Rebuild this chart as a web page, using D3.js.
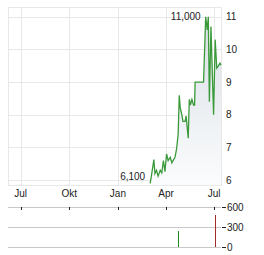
<!DOCTYPE html>
<html>
<head>
<meta charset="utf-8">
<script src="https://cdn.jsdelivr.net/npm/d3@7"></script>
<style>
  body { margin: 0; background: #fff; }
  svg { display: block; font-family: "Liberation Sans", Arial, sans-serif; }
</style>
</head>
<body>
<svg id="chart" width="264" height="255"></svg>
<script>
// price series (date, close)
const priceDates = [
  '2024-03-02', '2024-03-05', '2024-03-09', '2024-03-11', '2024-03-14', '2024-03-17',
  '2024-03-21', '2024-03-24', '2024-03-27', '2024-03-30', '2024-04-02', '2024-04-05',
  '2024-04-09', '2024-04-12', '2024-04-15', '2024-04-18', '2024-04-21', '2024-04-24',
  '2024-04-26', '2024-04-28', '2024-05-01', '2024-05-03', '2024-05-07', '2024-05-09',
  '2024-05-13', '2024-05-15', '2024-05-17', '2024-05-20', '2024-05-23', '2024-05-25',
  '2024-05-26', '2024-06-11', '2024-06-15', '2024-06-18', '2024-06-20', '2024-06-22',
  '2024-06-25', '2024-06-27', '2024-06-30', '2024-07-03', '2024-07-06', '2024-07-09',
  '2024-07-12', '2024-07-14'
];
const priceValues = [
  5.9, 6.2, 6.63, 6.2, 6.3, 6.12,
  6.3, 6.22, 6.6, 6.26, 6.8, 6.6,
  6.7, 6.53, 6.62, 6.7, 6.96, 7.42,
  8.6, 8.2, 8.0, 7.8, 7.8, 7.96,
  7.28, 8.47, 8.3, 8.47, 8.3, 8.3,
  9.0, 9.0, 11.0, 10.6, 11.0, 8.4,
  10.7, 9.6, 8.0, 10.3, 9.43, 9.5,
  9.58, 9.52
];
// volume bars
const volumeDates = ['2024-04-24', '2024-07-03'];
const volumeValues = [240, 490];
const volumeUp = [true, false];
// min / max annotations
const extremeDates = ['2024-03-02', '2024-06-15'];
const extremeValues = [6.1, 11.0];
// axis ticks
const monthTicks = ['2023-07-01', '2023-10-01', '2024-01-01', '2024-04-01', '2024-07-01'];
const monthLabels = ['Jul', 'Okt', 'Jan', 'Apr', 'Jul'];
const priceTicks = [6, 7, 8, 9, 10, 11];
const volumeTicks = [0, 300, 600];

const parse = d3.timeParse('%Y-%m-%d');
const prices = priceDates.map((d, i) => ({ date: parse(d), value: priceValues[i] }));
const volumes = volumeDates.map((d, i) => ({ date: parse(d), value: volumeValues[i], up: volumeUp[i] }));
const de = d3.formatLocale({ decimal: ',', thousands: '.', grouping: [3], currency: ['', ' €'] });
const fmt = de.format('.3f');

const svg = d3.select('#chart');
const plot = { left: 8, right: 221, top: 7, bottom: 185 };
const vol = { top: 207.3, bottom: 247 };

const x = d3.scaleTime()
  .domain([parse('2023-06-07'), parse('2024-07-14')])
  .range([plot.left, plot.right]);
const y = d3.scaleLinear().domain([5.85, 11.3]).range([plot.bottom, plot.top]);
const yv = d3.scaleLinear().domain([0, 600]).range([vol.bottom, vol.top]);

// gradient for area
const grad = svg.append('defs').append('linearGradient')
  .attr('id', 'areaGrad').attr('x1', 0).attr('y1', 0).attr('x2', 0).attr('y2', 1);
grad.append('stop').attr('offset', '0%').attr('stop-color', '#d9dfe5');
grad.append('stop').attr('offset', '100%').attr('stop-color', '#fbfcfd');

// grid lines main
const grid = svg.append('g').attr('stroke', '#e8e8e8').attr('stroke-width', 1).attr('shape-rendering', 'crispEdges');
grid.selectAll('.h').data(priceTicks).enter().append('line')
  .attr('x1', plot.left).attr('x2', plot.right)
  .attr('y1', d => Math.round(y(d)) + 0.5).attr('y2', d => Math.round(y(d)) + 0.5);
grid.selectAll('.v').data(monthTicks).enter().append('line')
  .attr('x1', d => Math.round(x(parse(d))) + 0.5).attr('x2', d => Math.round(x(parse(d))) + 0.5)
  .attr('y1', plot.top).attr('y2', plot.bottom);
grid.append('rect')
  .attr('x', plot.left + 0.5).attr('y', plot.top + 0.5)
  .attr('width', plot.right - plot.left).attr('height', plot.bottom - plot.top)
  .attr('fill', 'none');

// area + line
const area = d3.area().x(d => x(d.date)).y0(plot.bottom).y1(d => y(d.value));
svg.append('path').datum(prices).attr('d', area).attr('fill', 'url(#areaGrad)');
const line = d3.line().x(d => x(d.date)).y(d => y(d.value));
svg.append('path').datum(prices).attr('d', line)
  .attr('fill', 'none').attr('stroke', '#3a9a3a').attr('stroke-width', 1.3);

// price labels (right)
svg.append('g').selectAll('text').data(priceTicks).enter().append('text')
  .attr('x', 226).attr('y', d => y(d)).attr('dy', '0.35em')
  .attr('font-size', 10).attr('fill', '#222').text(d => d);

// month labels
svg.append('g').selectAll('text').data(monthTicks).enter().append('text')
  .attr('x', d => x(parse(d))).attr('y', 197).attr('text-anchor', 'middle')
  .attr('font-size', 10).attr('fill', '#222').text((d, i) => monthLabels[i]);

// min/max annotations
svg.append('g').selectAll('text').data(extremeValues).enter().append('text')
  .attr('x', (d, i) => x(parse(extremeDates[i])) - 5).attr('y', d => y(d)).attr('dy', '0.35em')
  .attr('text-anchor', 'end').attr('font-size', 10).attr('fill', '#222').text(d => fmt(d));

// volume panel
const vg = svg.append('g').attr('shape-rendering', 'crispEdges');
vg.selectAll('line.h').data(volumeTicks).enter().append('line')
  .attr('x1', plot.left).attr('x2', plot.right)
  .attr('y1', d => Math.round(yv(d)) + 0.5).attr('y2', d => Math.round(yv(d)) + 0.5)
  .attr('stroke', '#c8c8c8');
vg.selectAll('line.t').data(monthTicks).enter().append('line')
  .attr('x1', d => Math.round(x(parse(d))) + 0.5).attr('x2', d => Math.round(x(parse(d))) + 0.5)
  .attr('y1', Math.round(yv(600))).attr('y2', Math.round(yv(600)) + 3)
  .attr('stroke', '#222');
vg.selectAll('line.yt').data(volumeTicks).enter().append('line')
  .attr('x1', 222).attr('x2', 226)
  .attr('y1', d => Math.round(yv(d)) + 0.5).attr('y2', d => Math.round(yv(d)) + 0.5)
  .attr('stroke', '#222');
svg.append('g').selectAll('text').data(volumeTicks).enter().append('text')
  .attr('x', 227).attr('y', d => yv(d)).attr('dy', '0.35em')
  .attr('font-size', 10).attr('fill', '#222').text(d => d);
vg.selectAll('line.bar').data(volumes).enter().append('line')
  .attr('x1', d => Math.round(x(d.date)) + 0.5).attr('x2', d => Math.round(x(d.date)) + 0.5)
  .attr('y1', yv(0)).attr('y2', d => yv(d.value))
  .attr('stroke', d => d.up ? '#1a8a1a' : '#a52a2a').attr('stroke-width', 1);
</script>
</body>
</html>
